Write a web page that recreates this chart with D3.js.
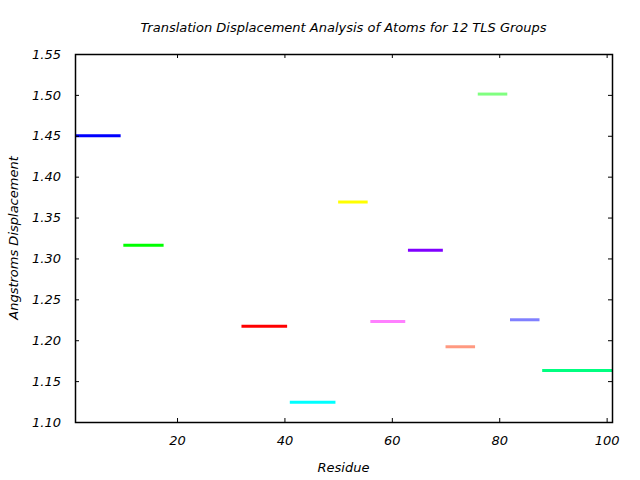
<!DOCTYPE html>
<html>
<head>
  <meta charset="UTF-8">
  <title>TLS Groups</title>
  <script src="https://cdn.jsdelivr.net/npm/d3@7"></script>
  <style>
    body { margin: 0; background: #fff; }
    text { font-family: "DejaVu Sans", sans-serif; font-style: italic; fill: #000; }
  </style>
</head>
<body>
<svg id="chart"></svg>
<script>
// TLS groups: residue ranges and displacement
var groupStart = [1, 10, 32, 41, 50, 56, 63, 70, 76, 82, 88];
var groupEnd   = [9.5, 17.5, 40.5, 49.5, 55.5, 62.5, 69.5, 75.5, 81.5, 87.5, 101];
var displacement = [1.450, 1.316, 1.217, 1.124, 1.369, 1.223, 1.310, 1.192, 1.501, 1.225, 1.163];
var groupColors = ["#0000ff", "#00ff00", "#ff0000", "#00ffff", "#ffff00", "#ff80ff",
                   "#8000ff", "#ff9980", "#80ff80", "#8080ff", "#00ff80"];
var xTicks = [20, 40, 60, 80, 100];
var yTicks = [1.10, 1.15, 1.20, 1.25, 1.30, 1.35, 1.40, 1.45, 1.50, 1.55];

var width = 640, height = 480;
var margin = {top: 54, right: 28, bottom: 58, left: 75};

var svg = d3.select("#chart").attr("width", width).attr("height", height);

var x = d3.scaleLinear().domain([1, 101]).range([margin.left, width - margin.right]);
var y = d3.scaleLinear().domain([1.10, 1.55]).range([height - margin.bottom, margin.top]);

// segments
svg.selectAll(".seg")
  .data(displacement)
  .enter().append("line")
  .attr("class", "seg")
  .attr("x1", function(d, i) { return x(groupStart[i]); })
  .attr("x2", function(d, i) { return x(groupEnd[i]); })
  .attr("y1", function(d) { return y(d); })
  .attr("y2", function(d) { return y(d); })
  .attr("stroke", function(d, i) { return groupColors[i]; })
  .attr("stroke-width", 3);

// axes (inward ticks, mirrored)
var axBottom = svg.append("g")
  .attr("transform", "translate(0," + (height - margin.bottom) + ")")
  .call(d3.axisBottom(x).tickValues(xTicks).tickSize(-4).tickPadding(14).tickFormat(d3.format("d")));
var axTop = svg.append("g")
  .attr("transform", "translate(0," + margin.top + ")")
  .call(d3.axisTop(x).tickValues(xTicks).tickSize(-4).tickFormat(""));
var axLeft = svg.append("g")
  .attr("transform", "translate(" + margin.left + ",0)")
  .call(d3.axisLeft(y).tickValues(yTicks).tickSize(-4).tickPadding(14).tickFormat(d3.format(".2f")));
var axRight = svg.append("g")
  .attr("transform", "translate(" + (width - margin.right) + ",0)")
  .call(d3.axisRight(y).tickValues(yTicks).tickSize(-4).tickFormat(""));

[axBottom, axTop, axLeft, axRight].forEach(function(a) {
  a.select(".domain").remove();
  a.attr("font-size", null).attr("font-family", null);
  a.selectAll(".tick line").attr("stroke", "#000").attr("stroke-width", 1);
  a.selectAll("text").attr("font-size", 13).attr("fill", "#000");
});

// frame
svg.append("rect")
  .attr("x", margin.left + 0.5)
  .attr("y", margin.top + 0.5)
  .attr("width", width - margin.left - margin.right)
  .attr("height", height - margin.top - margin.bottom)
  .attr("fill", "none")
  .attr("stroke", "#000")
  .attr("stroke-width", 1.5);

svg.append("text")
  .attr("x", (margin.left + width - margin.right) / 2)
  .attr("y", 32)
  .attr("text-anchor", "middle")
  .attr("font-size", 13)
  .text("Translation Displacement Analysis of Atoms for 12 TLS Groups");

svg.append("text")
  .attr("x", (margin.left + width - margin.right) / 2)
  .attr("y", 472)
  .attr("text-anchor", "middle")
  .attr("font-size", 13)
  .text("Residue");

svg.append("text")
  .attr("transform", "translate(18," + ((margin.top + height - margin.bottom) / 2) + ") rotate(-90)")
  .attr("text-anchor", "middle")
  .attr("font-size", 13)
  .text("Angstroms Displacement");
</script>
</body>
</html>
